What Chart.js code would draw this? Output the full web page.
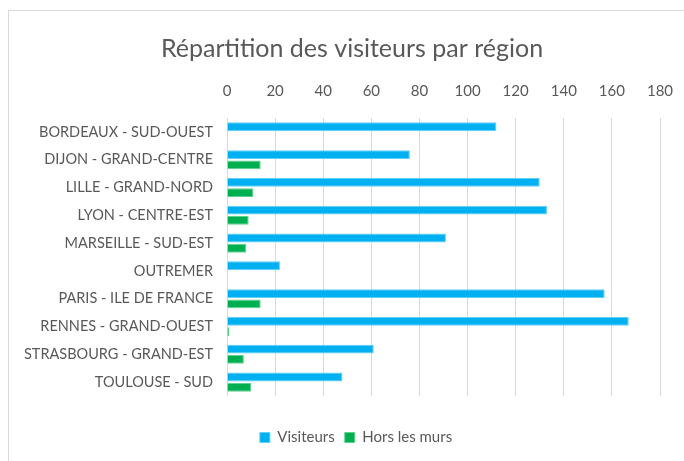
<!DOCTYPE html>
<html>
<head>
<meta charset="utf-8">
<script src="https://cdn.jsdelivr.net/npm/chart.js@4"></script>
<style>
  body { margin: 0; background: #fff; overflow: hidden; }
  #frame { position: absolute; left: 8px; top: 10px; width: 700px; height: 480px;
           border-left: 1px solid #d9d9d9; border-top: 1px solid #d9d9d9; }
  #wrap { position: absolute; left: 0; top: 0; width: 684px; height: 461px; }
</style>
</head>
<body>
<div id="frame"></div>
<div id="wrap"><canvas id="regions" width="684" height="461"></canvas></div>
<script>
var regions = ['BORDEAUX - SUD-OUEST', 'DIJON - GRAND-CENTRE', 'LILLE - GRAND-NORD', 'LYON - CENTRE-EST',
  'MARSEILLE - SUD-EST', 'OUTREMER', 'PARIS - ILE DE FRANCE', 'RENNES - GRAND-OUEST',
  'STRASBOURG - GRAND-EST', 'TOULOUSE - SUD'];
var visiteurs = [112, 76, 130, 133, 91, 22, 157, 167, 61, 48];
var horsLesMurs = [0, 14, 11, 9, 8, 0, 14, 1, 7, 10];

var grey = '#595959';
var font = 'Lato, "Open Sans", sans-serif';

// the Excel frame runs past the right edge, so title and legend sit a bit right of centre;
// legend also goes lower (big gap above it, small one below)
var nudgeBlocks = {
  id: 'nudgeBlocks',
  afterLayout: function(chart) {
    if (chart.titleBlock) {
      chart.titleBlock.left += 17;
      chart.titleBlock.right += 17;
    }
    if (chart.legend) {
      chart.legend.left += 21;
      chart.legend.right += 21;
      chart.legend.top += 24;
      chart.legend.bottom += 24;
    }
  }
};

var config = {
  type: 'bar',
  data: {
    labels: regions,
    datasets: [
      { label: 'Visiteurs', data: visiteurs, backgroundColor: '#00b0f0', borderColor: '#5fd0f8', borderWidth: 1 },
      { label: 'Hors les murs', data: horsLesMurs, backgroundColor: '#00b050', borderColor: '#5fd08f', borderWidth: 1 }
    ]
  },
  options: {
    indexAxis: 'y',
    responsive: false,
    animation: false,
    layout: { padding: { left: 10, right: 24, top: 34, bottom: 30 } },
    datasets: { bar: { categoryPercentage: 0.74, barPercentage: 0.86 } },
    plugins: {
      title: {
        display: true,
        text: 'Répartition des visiteurs par région',
        color: grey,
        font: { family: font, size: 25, weight: 'normal' },
        padding: { top: 0, bottom: 0 }
      },
      legend: {
        position: 'bottom',
        labels: {
          color: grey,
          font: { family: font, size: 15 },
          boxWidth: 10, boxHeight: 10, padding: 10
        }
      },
      tooltip: { enabled: false }
    },
    scales: {
      x: {
        position: 'top',
        min: 0, max: 180,
        ticks: { stepSize: 20, color: grey, font: { family: font, size: 15 }, padding: 18 },
        grid: { color: '#d9d9d9', drawTicks: false },
        border: { display: false },
        afterFit: function(scale) {
          scale.paddingRight = 0;
        }
      },
      y: {
        ticks: { color: grey, font: { family: font, size: 14.5 }, padding: 14 },
        grid: { display: false, drawTicks: false },
        border: { display: false }
      }
    }
  },
  plugins: [nudgeBlocks]
};

var myChart = new Chart(document.getElementById('regions'), config);
</script>
</body>
</html>
